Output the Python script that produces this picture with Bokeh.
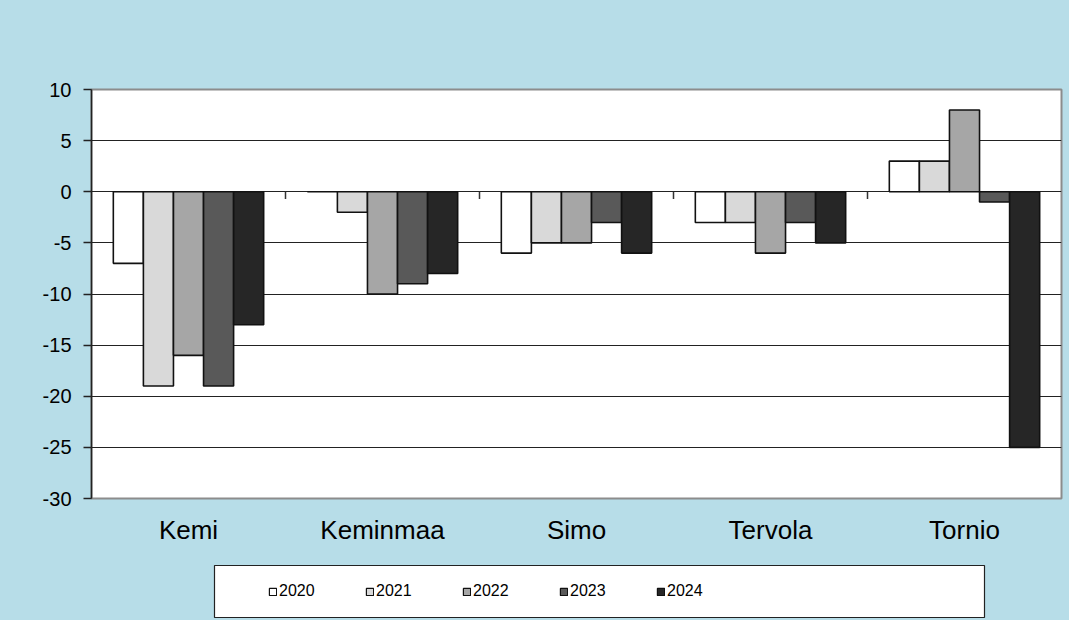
from bokeh.plotting import figure
from bokeh.layouts import column
from bokeh.models import (FactorRange, Range1d, ColumnDataSource, FixedTicker, Legend,
                          LegendItem, CategoricalAxis, LinearAxis, PrintfTickFormatter,
                          BoxAnnotation)
from bokeh.transform import dodge
from bokeh.embed import file_html
from bokeh.resources import INLINE

municipalities = ["Kemi", "Keminmaa", "Simo", "Tervola", "Tornio"]
years = ["2020", "2021", "2022", "2023", "2024"]
v2020 = [-7, 0, -6, -3, 3]
v2021 = [-19, -2, -5, -3, 3]
v2022 = [-16, -10, -5, -6, 8]
v2023 = [-19, -9, -3, -3, -1]
v2024 = [-13, -8, -6, -5, -25]
series = [v2020, v2021, v2022, v2023, v2024]
y_ticks = [-30, -25, -20, -15, -10, -5, 0, 5, 10]

colors = ["#ffffff", "#d9d9d9", "#a6a6a6", "#595959", "#262626"]
BG = "#b7dde8"
FONT = "Liberation Sans"

W = 1069
H_MAIN = 564
H_LEG = 56
BL, BR = 91, 8
FW = W - BL - BR  # frame width in px

p = figure(width=W, height=H_MAIN, x_range=FactorRange(factors=municipalities),
           y_range=Range1d(-30, 10), output_backend="svg", toolbar_location=None,
           x_axis_location=None, y_axis_location=None,
           min_border_left=BL, min_border_right=BR, min_border_top=89, min_border_bottom=66)
p.background_fill_color = "#ffffff"
p.border_fill_color = BG
p.outline_line_color = "#8c8c8c"
p.outline_line_width = 2

yax = LinearAxis(ticker=FixedTicker(ticks=y_ticks), formatter=PrintfTickFormatter(format="%d"))
yax.major_tick_out = 8
yax.major_tick_in = 0
yax.minor_tick_line_color = None
yax.axis_line_color = "#222222"
yax.axis_line_width = 1.5
yax.major_tick_line_color = "#222222"
yax.major_tick_line_width = 1.5
yax.major_label_text_font = FONT
yax.major_label_text_font_size = "20px"
yax.major_label_text_color = "#000000"
yax.major_label_standoff = 12
p.add_layout(yax, "left")

xax = CategoricalAxis()
xax.axis_line_color = None
xax.major_tick_line_color = None
xax.minor_tick_line_color = None
xax.major_label_text_font = FONT
xax.major_label_text_font_size = "26px"
xax.major_label_text_color = "#000000"
xax.major_label_standoff = 10
p.add_layout(xax, "below")

p.xgrid.grid_line_color = None
p.ygrid.ticker = FixedTicker(ticks=y_ticks)
p.ygrid.grid_line_color = "#222222"
p.ygrid.grid_line_width = 1.2

# category boundary ticks on the zero line
n = len(municipalities)
bx = list(range(1, n))
p.segment(x0=bx, y0=[0] * len(bx), x1=bx, y1=[-0.7] * len(bx), line_color="#333333", line_width=1.5)

bw = 0.155
offsets = [(i - 2) * bw for i in range(len(years))]
for yr, vals, col, off in zip(years, series, colors, offsets):
    src = ColumnDataSource(dict(cat=municipalities, val=vals))
    p.vbar(x=dodge("cat", off, range=p.x_range), top="val", bottom=0, width=bw,
           source=src, fill_color=col, line_color="#111111", line_width=1.6)

# legend strip (its frame spans the same columns as the chart frame; units = px)
lf = figure(width=W, height=H_LEG, x_range=Range1d(0, FW), y_range=Range1d(0, H_LEG),
            output_backend="svg", toolbar_location=None,
            x_axis_location=None, y_axis_location=None,
            min_border_left=BL, min_border_right=BR, min_border_top=0, min_border_bottom=0)
lf.background_fill_color = BG
lf.border_fill_color = BG
lf.outline_line_color = None
lf.grid.visible = False

lf.add_layout(BoxAnnotation(left=214 - BL, right=984 - BL, top=H_LEG - 1, bottom=H_LEG - 53,
                            fill_color="#ffffff", fill_alpha=1,
                            line_color="#222222", line_alpha=1, line_width=1.2))

leg_renderers = []
for col in colors:
    r = lf.vbar(x=[-1000], top=[-1000], bottom=[-1001], width=1, fill_color=col,
                line_color="#111111", line_width=1.2)
    leg_renderers.append(r)

legend = Legend(items=[LegendItem(label=yr, renderers=[r]) for yr, r in zip(years, leg_renderers)],
                orientation="horizontal", location=(268 - BL, H_LEG - 37))
legend.background_fill_alpha = 0
legend.border_line_alpha = 0
legend.padding = 0
legend.margin = 0
legend.spacing = 0
legend.glyph_width = 9
legend.glyph_height = 9
legend.label_standoff = 2
legend.label_width = 86
legend.label_height = 20
legend.label_text_font = FONT
legend.label_text_font_size = "16px"
legend.label_text_color = "#000000"
lf.add_layout(legend)

layout = column(p, lf, spacing=0, styles={"background-color": BG})
open("out.html", "w").write(file_html(layout, INLINE))
